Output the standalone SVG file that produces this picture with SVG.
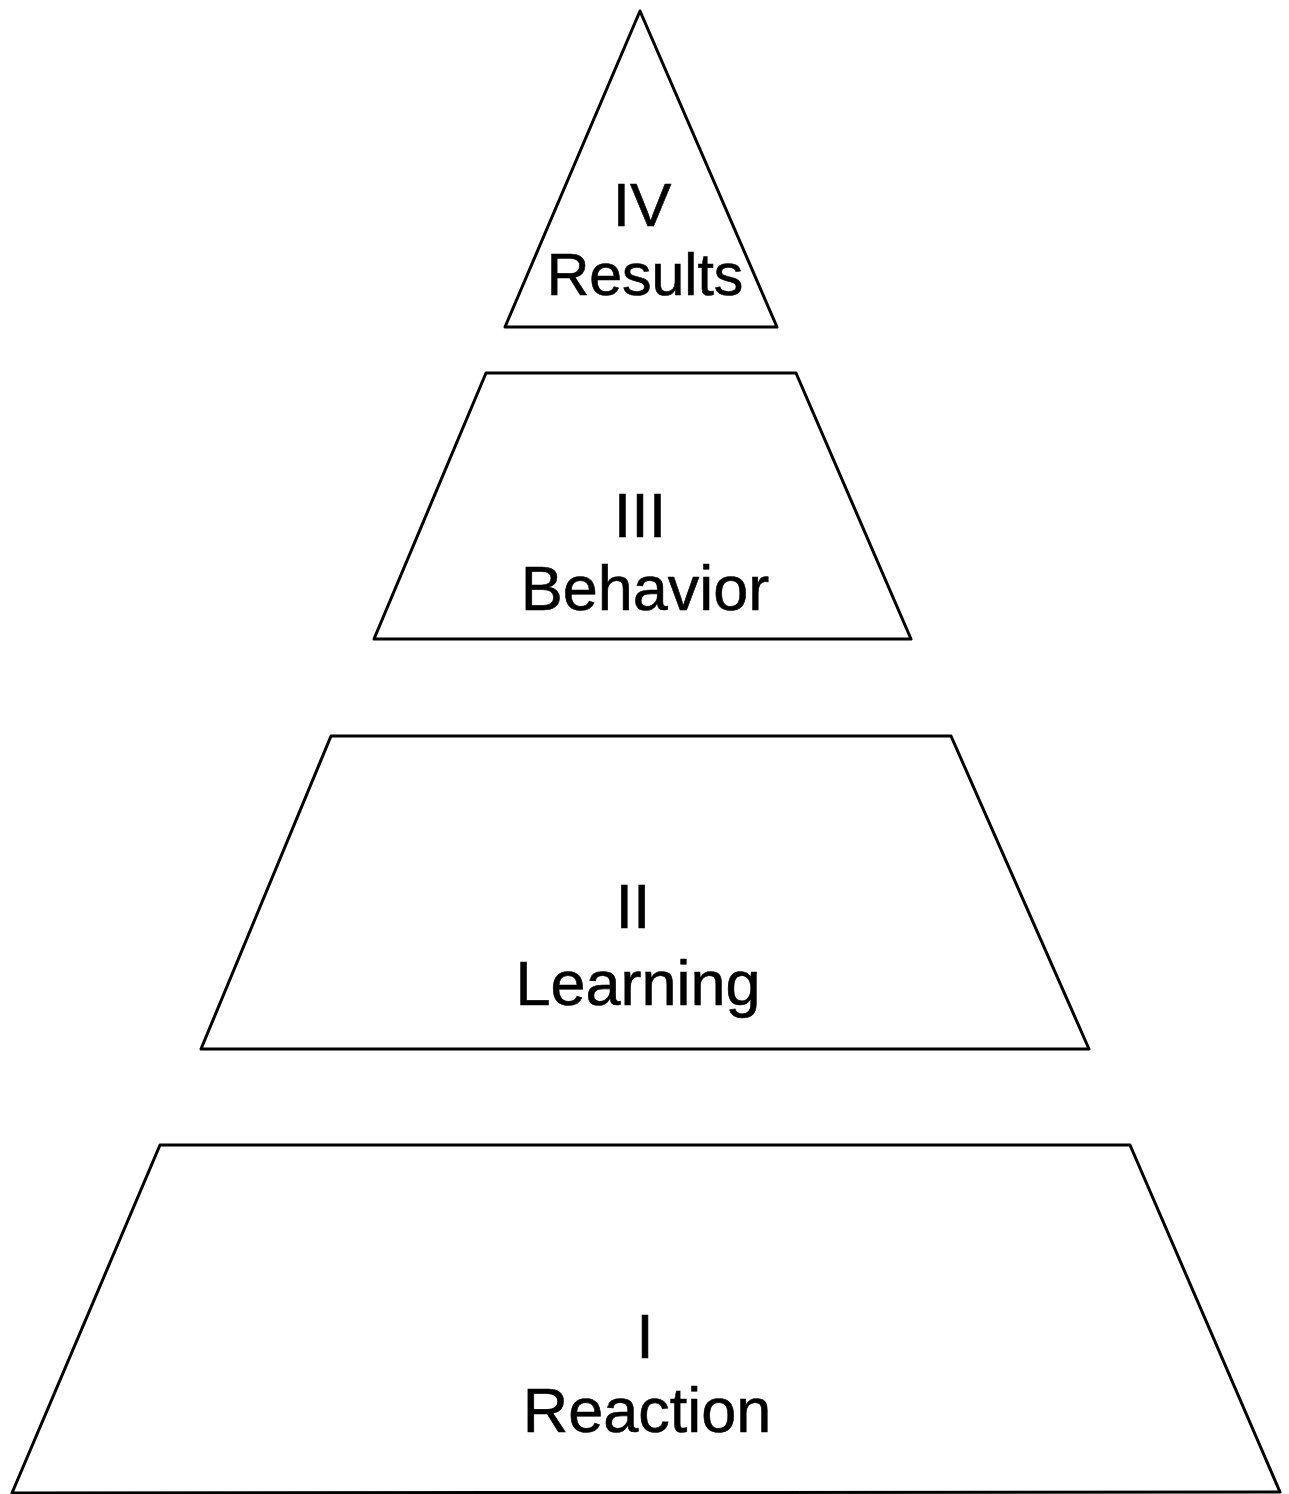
<svg xmlns="http://www.w3.org/2000/svg" width="1289" height="1494" viewBox="0 0 1289 1494">
  <style>
    .tier { fill: #ffffff; stroke: #000000; stroke-width: 3; stroke-linejoin: round; }
    .label { font-family: "Liberation Sans", Arial, sans-serif; font-size: 63px; fill: #000000; stroke: #000000; stroke-width: 0.6; text-anchor: middle; }
    .small { font-size: 59px; }
    .mid { font-size: 62px; }
  </style>
  <rect x="0" y="0" width="1289" height="1494" fill="#ffffff"/>

  <!-- Level IV: apex triangle -->
  <g id="level-iv">
    <polygon class="tier" points="640,11 777,327 505,327"/>
    <text class="label mid" x="642" y="226">IV</text>
    <text class="label small" x="645" y="295">Results</text>
  </g>

  <!-- Level III -->
  <g id="level-iii">
    <polygon class="tier" points="486,373 796,373 911,639 374,639"/>
    <text class="label" x="640" y="537">III</text>
    <text class="label" x="645" y="610">Behavior</text>
  </g>

  <!-- Level II -->
  <g id="level-ii">
    <polygon class="tier" points="331,736 951,736 1089,1049 201,1049"/>
    <text class="label" x="633" y="928">II</text>
    <text class="label" x="638" y="1005">Learning</text>
  </g>

  <!-- Level I: base tier -->
  <g id="level-i">
    <polygon class="tier" points="160,1145 1130,1145 1280,1492 12,1493"/>
    <text class="label" x="645" y="1358">I</text>
    <text class="label" x="647" y="1432">Reaction</text>
  </g>

  <g id="connectors"/>
</svg>
